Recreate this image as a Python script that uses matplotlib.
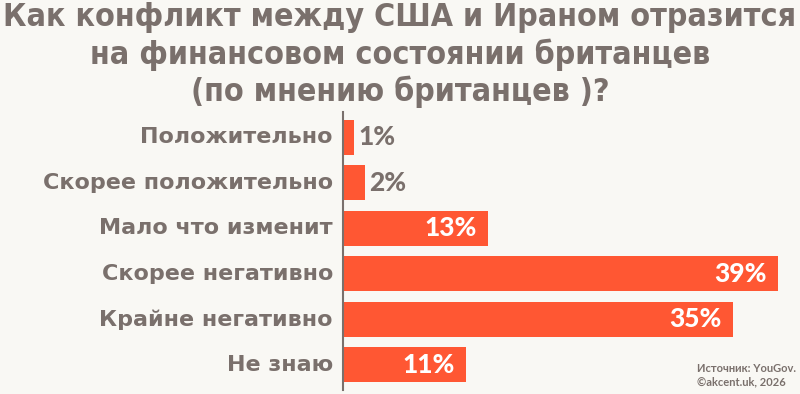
import matplotlib
matplotlib.use("Agg")
import matplotlib.pyplot as plt

plt.rcParams.update({"font.family": ["DejaVu Sans"]})

CATS = ["Положительно", "Скорее положительно", "Мало что изменит",
        "Скорее негативно", "Крайне негативно", "Не знаю"]
VALS = [1, 2, 13, 39, 35, 11]
TITLE = ("Как конфликт между США и Ираном отразится\n"
         "на финансовом состоянии британцев\n(по мнению британцев )?")
SOURCE = "Источник: YouGov.\n©akcent.uk, 2026"

BG = "#f9f8f4"
BAR = "#ff5733"
GREY = "#7a706c"

fig = plt.figure(figsize=(8, 3.94), dpi=100, facecolor=BG)
ax = fig.add_axes([0.42875, 0.0102, 0.57125, 0.7055], facecolor=BG)

ys = range(len(CATS))
ax.barh(ys, VALS, height=0.77, color=BAR)
ax.set_xlim(0, 41.0)
ax.set_ylim(5.55, -0.55)

for y, v in zip(ys, VALS):
    if v >= 5:
        ax.text(v - 1.0, y, f"{v}%", ha="right", va="center", color="white",
                fontsize=19, fontweight="black", family=["Lato", "DejaVu Sans"])
    else:
        ax.text(v + 0.35, y, f"{v}%", ha="left", va="center", color=GREY,
                fontsize=19, fontweight="black", family=["Lato", "DejaVu Sans"])
    ax.text(-0.9, y, CATS[y], ha="right", va="center", color=GREY,
            fontsize=16, fontweight="bold")

ax.set_xticks([]); ax.set_yticks([])
for s in ("top", "right", "bottom"):
    ax.spines[s].set_visible(False)
ax.spines["left"].set_color(GREY)
ax.spines["left"].set_linewidth(1.5)

fig.text(0.5, 0.995, TITLE, ha="center", va="top", color=GREY, fontsize=23,
         fontweight="bold", fontstretch="condensed", linespacing=1.2)
fig.text(0.871, 0.078, SOURCE, ha="left", va="top", color=GREY, fontsize=8,
         fontweight="bold", family=["Lato", "DejaVu Sans"], linespacing=1.25)

fig.savefig("out.png", facecolor=BG)
